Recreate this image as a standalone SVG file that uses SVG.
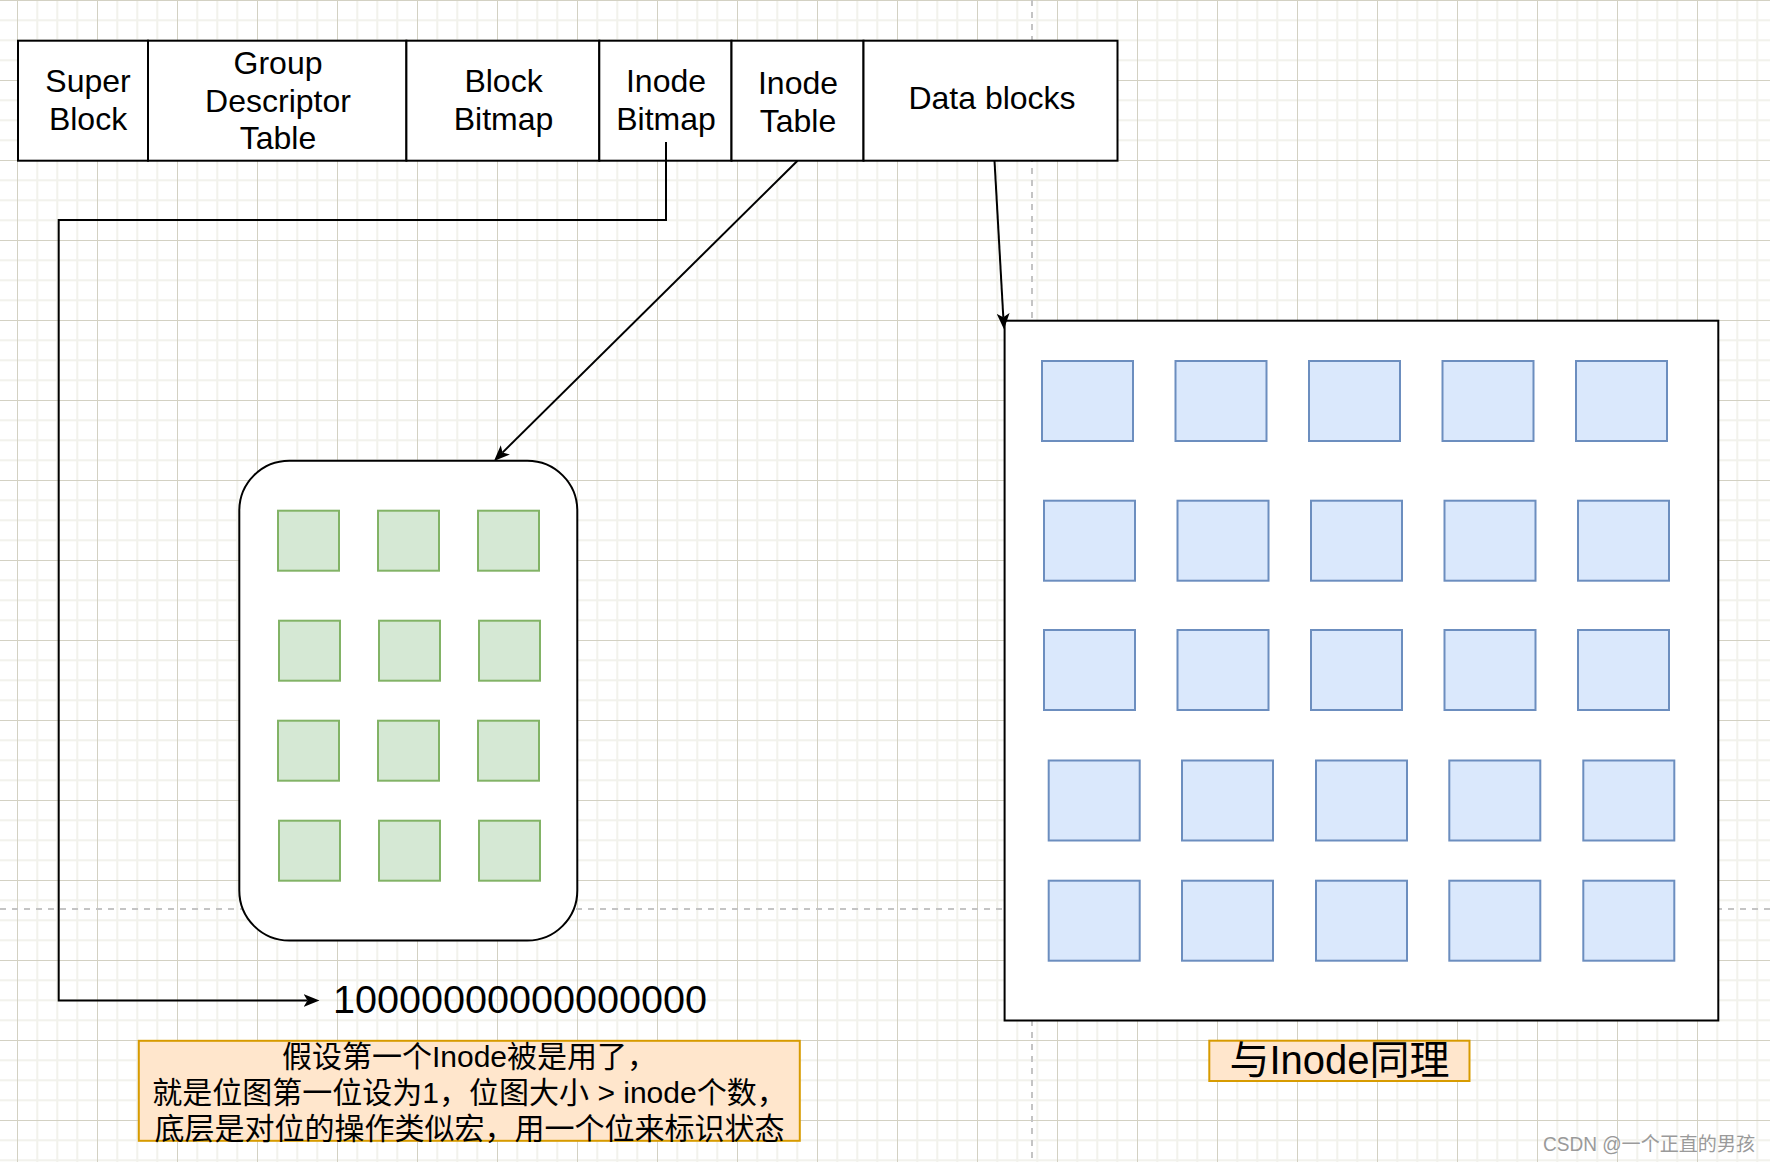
<svg xmlns="http://www.w3.org/2000/svg" width="1770" height="1162" viewBox="0 0 1770 1162">
<defs>
<pattern id="grid" patternUnits="userSpaceOnUse" x="17" y="0" width="80" height="80">
<rect x="0" y="0" width="80" height="80" fill="#ffffff"/>
<rect x="19.3" y="0" width="2" height="80" fill="#f2f2ec"/>
<rect x="39.3" y="0" width="2" height="80" fill="#f2f2ec"/>
<rect x="59.3" y="0" width="2" height="80" fill="#f2f2ec"/>
<rect x="0" y="19.3" width="80" height="2" fill="#f2f2ec"/>
<rect x="0" y="39.3" width="80" height="2" fill="#f2f2ec"/>
<rect x="0" y="59.3" width="80" height="2" fill="#f2f2ec"/>
<rect x="0" y="0" width="1" height="80" fill="#d3d1c3"/>
<rect x="0" y="0" width="80" height="1" fill="#d3d1c3"/>
</pattern>
<marker id="arr" markerUnits="userSpaceOnUse" viewBox="0 0 16 13" refX="4" refY="6.5" markerWidth="16" markerHeight="13" orient="auto">
<path d="M0,0 L16,6.5 L0,13 L4,6.5 Z" fill="#000000"/>
</marker>
<style>
.cell{fill:#ffffff;stroke:#000000;stroke-width:2}
.t{font-family:"Liberation Sans","Noto Sans CJK SC",sans-serif;fill:#000000;text-anchor:middle}
.t32{font-size:32px}
.blue{fill:#dae8fc;stroke:#6c8ebf;stroke-width:2}
.green{fill:#d5e8d4;stroke:#82b366;stroke-width:2}
.note{fill:#ffe6cc;stroke:#d79b00;stroke-width:2}
.conn{fill:none;stroke:#000000;stroke-width:2}
.page{fill:none;stroke:#c4c4c4;stroke-width:2;stroke-dasharray:6 6}
</style>
</defs>
<rect x="0" y="0" width="1770" height="1162" fill="url(#grid)"/>
<g id="page-breaks">
<line class="page" x1="1032" y1="0" x2="1032" y2="1162"/>
<line class="page" x1="0" y1="909" x2="1770" y2="909"/>
</g>

<g id="super-block">
<rect class="cell" x="18" y="40.7" width="130" height="120"/>
<text class="t t32" x="88" y="92">Super</text>
<text class="t t32" x="88" y="129.5">Block</text>
</g>
<g id="group-descriptor-table">
<rect class="cell" x="148" y="40.7" width="258.4" height="120"/>
<text class="t t32" x="278" y="74">Group</text>
<text class="t t32" x="278" y="111.5">Descriptor</text>
<text class="t t32" x="278" y="149">Table</text>
</g>
<g id="block-bitmap">
<rect class="cell" x="406.4" y="40.7" width="192.9" height="120"/>
<text class="t t32" x="503.5" y="92">Block</text>
<text class="t t32" x="503.5" y="129.5">Bitmap</text>
</g>
<g id="inode-bitmap">
<rect class="cell" x="599.3" y="40.7" width="132.2" height="120"/>
<text class="t t32" x="666" y="92">Inode</text>
<text class="t t32" x="666" y="129.5">Bitmap</text>
</g>
<g id="inode-table">
<rect class="cell" x="731.5" y="40.7" width="132" height="120"/>
<text class="t t32" x="798" y="93.5">Inode</text>
<text class="t t32" x="798" y="131.5">Table</text>
</g>
<g id="data-blocks">
<rect class="cell" x="863.5" y="40.7" width="254" height="120"/>
<text class="t t32" x="992" y="109">Data blocks</text>
</g>

<g id="inode-table-store">
<rect class="cell" x="239.3" y="460.7" width="338" height="479.8" rx="50" ry="50"/>
<rect class="green" x="278" y="510.7" width="61" height="60"/>
<rect class="green" x="378" y="510.7" width="61" height="60"/>
<rect class="green" x="478" y="510.7" width="61" height="60"/>
<rect class="green" x="279" y="620.7" width="61" height="60"/>
<rect class="green" x="379" y="620.7" width="61" height="60"/>
<rect class="green" x="479" y="620.7" width="61" height="60"/>
<rect class="green" x="278" y="720.7" width="61" height="60"/>
<rect class="green" x="378" y="720.7" width="61" height="60"/>
<rect class="green" x="478" y="720.7" width="61" height="60"/>
<rect class="green" x="279" y="820.7" width="61" height="60"/>
<rect class="green" x="379" y="820.7" width="61" height="60"/>
<rect class="green" x="479" y="820.7" width="61" height="60"/>
</g>

<g id="data-blocks-store">
<rect class="cell" x="1004.6" y="320.7" width="713.7" height="699.8"/>
<rect class="blue" x="1042" y="361" width="91" height="80"/>
<rect class="blue" x="1175.5" y="361" width="91" height="80"/>
<rect class="blue" x="1309" y="361" width="91" height="80"/>
<rect class="blue" x="1442.5" y="361" width="91" height="80"/>
<rect class="blue" x="1576" y="361" width="91" height="80"/>
<rect class="blue" x="1044" y="500.7" width="91" height="80"/>
<rect class="blue" x="1177.5" y="500.7" width="91" height="80"/>
<rect class="blue" x="1311" y="500.7" width="91" height="80"/>
<rect class="blue" x="1444.5" y="500.7" width="91" height="80"/>
<rect class="blue" x="1578" y="500.7" width="91" height="80"/>
<rect class="blue" x="1044" y="630" width="91" height="80"/>
<rect class="blue" x="1177.5" y="630" width="91" height="80"/>
<rect class="blue" x="1311" y="630" width="91" height="80"/>
<rect class="blue" x="1444.5" y="630" width="91" height="80"/>
<rect class="blue" x="1578" y="630" width="91" height="80"/>
<rect class="blue" x="1048.7" y="760.5" width="91" height="80"/>
<rect class="blue" x="1182" y="760.5" width="91" height="80"/>
<rect class="blue" x="1316" y="760.5" width="91" height="80"/>
<rect class="blue" x="1449.3" y="760.5" width="91" height="80"/>
<rect class="blue" x="1583.3" y="760.5" width="91" height="80"/>
<rect class="blue" x="1048.7" y="880.7" width="91" height="80"/>
<rect class="blue" x="1182" y="880.7" width="91" height="80"/>
<rect class="blue" x="1316" y="880.7" width="91" height="80"/>
<rect class="blue" x="1449.3" y="880.7" width="91" height="80"/>
<rect class="blue" x="1583.3" y="880.7" width="91" height="80"/>
</g>

<g id="bitmap-value">
<text class="t" x="333" y="1013" textLength="374" lengthAdjust="spacingAndGlyphs" style="font-size:39px;text-anchor:start">10000000000000000</text>
</g>

<g id="inode-note">
<rect class="note" x="138.8" y="1040.8" width="661" height="100"/>
<text class="t" x="469.5" y="1066.5" style="font-size:30px">假设第一个Inode被是用了，</text>
<text class="t" x="469.5" y="1102.5" style="font-size:30px">就是位图第一位设为1，位图大小 &gt; inode个数，</text>
<text class="t" x="469.5" y="1138.5" style="font-size:30px">底层是对位的操作类似宏，用一个位来标识状态</text>
</g>

<g id="data-note">
<rect class="note" x="1209.3" y="1040.7" width="260.2" height="40.3"/>
<text class="t" x="1339.5" y="1073.5" style="font-size:40px">与Inode同理</text>
</g>

<g id="connectors">
<path class="conn" d="M666,142 V220 H58.7 V1000.5 H307.5" marker-end="url(#arr)"/>
<path class="conn" d="M797.5,160.7 L502.5,452.6" marker-end="url(#arr)"/>
<path class="conn" d="M994.5,160.7 L1003.3,317.3" marker-end="url(#arr)"/>
</g>

<text x="1543" y="1151" textLength="212" lengthAdjust="spacingAndGlyphs" style="font-family:'Liberation Sans','Noto Sans CJK SC',sans-serif;font-size:19.5px;fill:#9a9a9a">CSDN @一个正直的男孩</text>
</svg>
